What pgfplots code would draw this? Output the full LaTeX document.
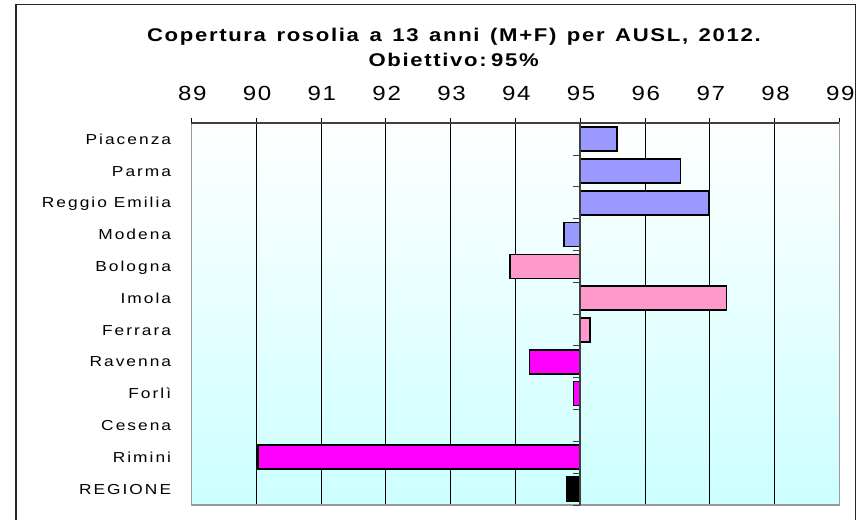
\documentclass[border=0pt]{standalone}
\usepackage{pgfplots}
\pgfplotsset{compat=1.18}
\usepackage{pgfplotstable}
\usepackage{fontspec}
\setmainfont{Liberation Sans}
\newfontfamily\ticklabfont[FakeStretch=1.18, LetterSpace=8]{Liberation Sans}
\newfontfamily\catfont[FakeStretch=1.2, LetterSpace=14]{Liberation Sans}
\newfontfamily\titfont[FakeStretch=1.2, LetterSpace=9, WordSpace=1.35]{Liberation Sans Bold}
\definecolor{cblue}{HTML}{9999FF}
\definecolor{cpink}{HTML}{FF99CC}
\definecolor{cmag}{HTML}{FF00FF}
\definecolor{cbot}{HTML}{CCFFFF}
\definecolor{axdark}{HTML}{404040}
\definecolor{axgray}{HTML}{9A9A9A}

% y = category index (0 = Piacenza ... 11 = REGIONE), x = coverage (%)
\pgfplotstableread{
y x
0 95.57
1 96.55
2 96.98
3 94.75
}\datablue
\pgfplotstableread{
y x
4 93.92
5 97.26
6 95.15
}\datapink
\pgfplotstableread{
y x
7 94.22
8 94.90
9 95.00
10 90.03
}\datamag
\pgfplotstableread{
y x
11 94.80
}\datareg

\begin{document}
\begin{tikzpicture}[x=1bp,y=1bp]
\useasboundingbox (0,0) rectangle (862,520);
\draw[line width=1.6bp, color=black!85] (15.7,-20) -- (15.7,515.3) -- (855.3,515.3) -- (855.3,-20);
\begin{axis}[
  at={(191.3bp,15bp)}, anchor=south west,
  scale only axis, width=648bp, height=381.7bp,
  xmin=-6, xmax=4, ymin=-0.5, ymax=11.5,
  y dir=reverse,
  x filter/.expression={x-95},
  xbar, bar shift=0pt, bar width=24bp,
  xtick={-6,-5,...,4},
  xticklabels={89,90,91,92,93,94,95,96,97,98,99},
  xtick pos=upper, xticklabel pos=upper,
  xtick align=outside,
  major tick length=5bp,
  x tick style={black, line width=0.8bp},
  ytick={0,...,11},
  yticklabels={Piacenza,Parma,Reggio Emilia,Modena,Bologna,Imola,Ferrara,Ravenna,Forlì,Cesena,Rimini,REGIONE},
  ytick pos=left, y tick style={draw=none},
  xticklabel style={font=\fontsize{20.5}{20.5}\ticklabfont, inner sep=0pt, anchor=base, yshift=18bp, xshift=1bp},
  yticklabel style={font=\fontsize{14.5}{14.5}\catfont, inner sep=0pt, anchor=base east, xshift=-15bp, yshift=-5bp},
  xmajorgrids, grid style={black, line width=0.8bp},
  axis line style={axgray, line width=1.6bp},
  axis background/.style={shade, top color=white, bottom color=cbot},
  clip=false,
]
\addplot[fill=cblue, draw=black, line width=1.6bp] table[x=x,y=y] {\datablue};
\addplot[fill=cpink, draw=black, line width=1.6bp] table[x=x,y=y] {\datapink};
\addplot[fill=cmag, draw=black, line width=1.6bp] table[x=x,y=y] {\datamag};
\addplot[fill=black, draw=black, line width=1.6bp] table[x=x,y=y] {\datareg};
\draw[axdark, line width=1.6bp] (axis cs:-6,-0.5) -- (axis cs:4,-0.5);
\draw[axdark, line width=2bp] (axis cs:0,-0.5) -- (axis cs:0,11.5);
\pgfplotsinvokeforeach{0.5,1.5,2.5,3.5,4.5,5.5,6.5,7.5,8.5,9.5,10.5,11.5}{
  \draw[axdark, line width=1bp] (axis cs:0,#1) -- ++(-7bp,0pt);
}
\end{axis}
\node[anchor=base, inner sep=0pt, font=\fontsize{18.5}{18.5}\titfont] at (453.9,478) {Copertura rosolia a 13 anni (M+F) per AUSL, 2012.};
\node[anchor=base, inner sep=0pt, font=\fontsize{18.5}{18.5}\titfont] at (453.7,453) {Obiettivo:\hspace{4.5bp}95\%};
\end{tikzpicture}
\end{document}
